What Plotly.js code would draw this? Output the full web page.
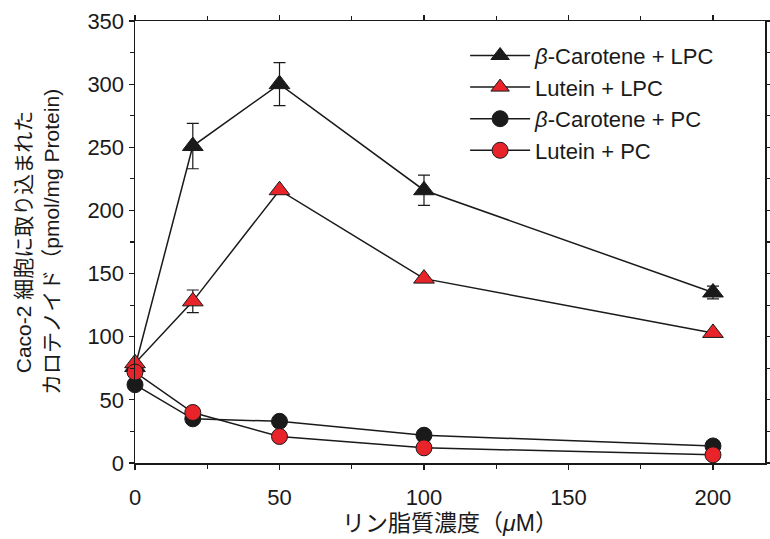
<!DOCTYPE html>
<html><head><meta charset="utf-8">
<script src="https://cdn.plot.ly/plotly-3.0.1.min.js"></script>
<style>html,body{margin:0;padding:0;background:#fff}#chart{width:770px;height:539px}</style>
</head><body><div id="chart"></div>
<script>
const concentrations = [0, 20, 50, 100, 200];
const seriesNames = ["<i>β</i>-Carotene + LPC", "Lutein + LPC", "<i>β</i>-Carotene + PC", "Lutein + PC"];
const betaCaroteneLPC = [76, 251, 300, 216, 135];
const betaCaroteneLPCErr = [0, 18, 17, 12, 5];
const luteinLPC = [79, 128, 216, 146, 103];
const luteinLPCErr = [0, 9, 0, 0, 0];
const betaCarotenePC = [62, 35, 33, 22, 13.5];
const luteinPC = [72, 40, 21, 12, 6.5];
const xTicks = [0, 50, 100, 150, 200];
const yTicks = [0, 50, 100, 150, 200, 250, 300, 350];

const BLACK = "#1a1a1a", RED = "#e8232a";
const FONT = "'Liberation Sans', Arial, 'Noto Sans CJK JP', sans-serif";

function tr(name, y, err, symbol, color, size) {
  const t = {
    x: concentrations, y: y, name: name, type: "scatter", mode: "lines+markers",
    line: {color: BLACK, width: 1.5},
    marker: {symbol: symbol, color: color, size: size, line: {color: BLACK, width: 1}},
    cliponaxis: false
  };
  if (err) t.error_y = {type: "data", array: err, visible: true, color: BLACK, thickness: 1.2, width: 6};
  return t;
}
const data = [
  tr(seriesNames[0], betaCaroteneLPC, betaCaroteneLPCErr, "triangle-up", BLACK, 18),
  tr(seriesNames[1], luteinLPC, luteinLPCErr, "triangle-up", RED, 18),
  tr(seriesNames[2], betaCarotenePC, null, "circle", BLACK, 16),
  tr(seriesNames[3], luteinPC, null, "circle", RED, 16)
];
const layout = {
  width: 770, height: 539,
  margin: {l: 135, r: 5, t: 21, b: 76},
  paper_bgcolor: "#fff", plot_bgcolor: "#fff",
  font: {family: FONT, color: BLACK, size: 22},
  showlegend: true,
  legend: {x: 0.524, y: 0.969, xanchor: "left", yanchor: "top", bgcolor: "rgba(0,0,0,0)",
    font: {size: 22, family: FONT}, tracegroupgap: 0, itemwidth: 60},
  xaxis: {
    range: [0, 218], tickvals: xTicks, ticktext: xTicks.map(String),
    showgrid: false, zeroline: false, showline: true, linecolor: BLACK, linewidth: 1.5,
    mirror: "ticks", ticks: "outside", ticklen: 5, tickcolor: BLACK, tickwidth: 1.2,
    minor: {dtick: 25, tick0: 0, ticks: "outside", ticklen: 4, tickcolor: BLACK},
    tickfont: {size: 22}, ticklabelstandoff: 9,
    title: {text: "リン脂質濃度（<i>μ</i>M）", font: {size: 23}, standoff: 6}
  },
  yaxis: {
    range: [0, 350], tickvals: yTicks, ticktext: yTicks.map(String),
    showgrid: false, zeroline: false, showline: true, linecolor: BLACK, linewidth: 1.5,
    mirror: "ticks", ticks: "outside", ticklen: 5, tickcolor: BLACK, tickwidth: 1.2,
    minor: {dtick: 25, tick0: 0, ticks: "outside", ticklen: 4, tickcolor: BLACK},
    tickfont: {size: 22},
    title: {text: "Caco-2 細胞に取り込まれた<br>カロテノイド（pmol/mg Protein)", font: {size: 21}, standoff: 22}
  }
};
Plotly.newPlot("chart", data, layout, {staticPlot: true});
</script></body></html>
